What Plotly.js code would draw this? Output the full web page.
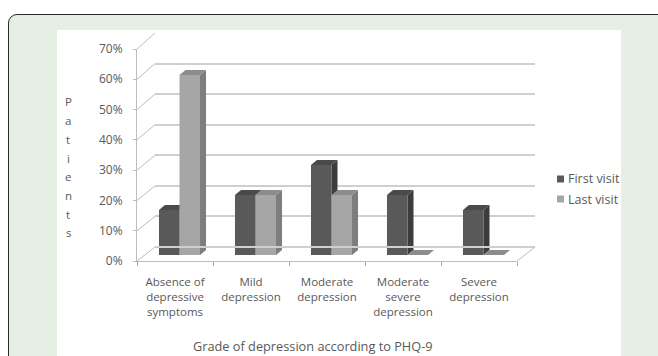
<!DOCTYPE html>
<html><head><meta charset="utf-8">
<script src="https://cdn.plot.ly/plotly-3.0.1.min.js"></script>
<style>
html,body{margin:0;padding:0;width:658px;height:356px;overflow:hidden;background:#fff;}
#frame{position:absolute;left:8px;top:14px;width:690px;height:400px;background:#e6efe3;border:1.5px solid #2b2b2b;border-radius:9px;}
#panel{position:absolute;left:57px;top:30px;width:564px;height:340px;background:#fff;}
#chart{position:absolute;left:0;top:0;width:658px;height:356px;}
</style></head><body>
<div id="frame"></div><div id="panel"></div><div id="chart"></div>
<script>
// ---- data ----
const categories = ['Absence of depressive symptoms','Mild depression','Moderate depression','Moderate severe depression','Severe depression'];
const tickLabels = ['Absence of<br>depressive<br>symptoms','Mild<br>depression','Moderate<br>depression','Moderate<br>severe<br>depression','Severe<br>depression'];
const firstVisit = [0.15, 0.20, 0.30, 0.20, 0.15];
const lastVisit  = [0.60, 0.20, 0.20, 0.00, 0.00];
const seriesNames = ['First visit', 'Last visit'];
const yTickVals = [0, 0.1, 0.2, 0.3, 0.4, 0.5, 0.6, 0.7];
const xTitle = 'Grade of depression according to PHQ-9';
const yTitle = 'Patients';

// ---- styling / geometry ----
const W = 658, H = 356;
const px = x => x / W, py = y => 1 - y / H;
const FONT = 'Open Sans, Arial, sans-serif';
const TXT = '#595959';
const AX = '#bdbdbd';
const front = {x0:137, x1:517, y0:261, y1:49};
const mid   = {x0:141.5, x1:521.5, y0:255, y1:45};
const back  = {x0:155, x1:535, y0:247, y1:33};
const yMax = 0.7;
const barW = 0.27;
const dx = 6 / ((mid.x1 - mid.x0) / categories.length);
const dy = 5 * yMax / (mid.y0 - mid.y1);
const colors = [
  {front:'#595959', side:'#3c3c3c', top:'#4a4a4a'},
  {front:'#a6a6a6', side:'#7d7d7d', top:'#8c8c8c'}
];
const idx = categories.map((c, i) => i);
const boundaries = categories.map((c, i) => i - 0.5).concat([categories.length - 0.5]);
const series = [firstVisit, lastVisit];

const traces = [
  {type:'scatter', mode:'none', x: idx, y: firstVisit, xaxis:'x', yaxis:'y', showlegend:false, hoverinfo:'skip'}
];
series.forEach((vals, s) => {
  traces.push({type:'bar', name: seriesNames[s], x: idx, y: vals, xaxis:'x2', yaxis:'y2',
    marker:{color: colors[s].front, line:{width:0}}, showlegend:false, hovertext: categories, hoverinfo:'text+y'});
});
traces.push({type:'scatter', mode:'none', x: idx, y: lastVisit, xaxis:'x3', yaxis:'y3', showlegend:false, hoverinfo:'skip'});

const shapes = [];
// 3D faces of bars (data coordinates)
series.forEach((vals, s) => {
  vals.forEach((v, i) => {
    const l = i - barW + s * barW, r = l + barW;
    shapes.push({type:'path', xref:'x2', yref:'y2', layer:'below', line:{width:0}, fillcolor: colors[s].side,
      path:`M${r},0 L${r+dx},${dy} L${r+dx},${v+dy} L${r},${v} Z`});
    shapes.push({type:'path', xref:'x2', yref:'y2', layer:'below', line:{width:0}, fillcolor: colors[s].top,
      path:`M${l},${v} L${l+dx},${v+dy} L${r+dx},${v+dy} L${r},${v} Z`});
  });
});
// walls / floor connectors
const yF = v => front.y0 - v / yMax * (front.y0 - front.y1);
const yB = v => back.y0 - v / yMax * (back.y0 - back.y1);
yTickVals.forEach(v => {
  shapes.push({type:'line', xref:'paper', yref:'paper', x0:px(front.x0), y0:py(yF(v)), x1:px(back.x0), y1:py(yB(v)), line:{color:AX, width:1}});
});
shapes.push({type:'line', xref:'paper', yref:'paper', x0:px(back.x0), y0:py(back.y0), x1:px(back.x1), y1:py(back.y0), line:{color:'#cfcfcf', width:2}});
shapes.push({type:'line', xref:'paper', yref:'paper', x0:px(front.x1), y0:py(front.y0), x1:px(back.x1), y1:py(back.y0), line:{color:AX, width:1}});
// legend squares
const legY = [179, 199];
seriesNames.forEach((n, s) => {
  shapes.push({type:'rect', xref:'paper', yref:'paper', x0:px(557), x1:px(564), y0:py(legY[s]+3.5), y1:py(legY[s]-3.5), line:{width:0}, fillcolor: colors[s].front});
});

const annotations = [];
seriesNames.forEach((n, s) => {
  annotations.push({xref:'paper', yref:'paper', x:px(566), y:py(legY[s]), xanchor:'left', yanchor:'middle', text:n, showarrow:false, font:{family:FONT, size:12.5, color:TXT}});
});
yTitle.split('').forEach((ch, k) => {
  annotations.push({xref:'paper', yref:'paper', x:px(68), y:py(102 + k * 18.7), xanchor:'center', yanchor:'middle', text:ch, showarrow:false, font:{family:FONT, size:11.5, color:TXT}});
});
annotations.push({xref:'paper', yref:'paper', x:px(313), y:py(346), xanchor:'center', yanchor:'middle', text:xTitle, showarrow:false, font:{family:FONT, size:12.75, color:TXT}});

const layout = {
  width: W, height: H, margin:{l:0, r:0, t:0, b:0},
  paper_bgcolor:'rgba(0,0,0,0)', plot_bgcolor:'rgba(0,0,0,0)',
  showlegend:false, barmode:'group', bargap: 1 - 2 * barW, bargroupgap:0,
  font:{family:FONT, color:TXT},
  xaxis:{domain:[px(back.x0), px(back.x1)], range:[-0.5, 4.5], visible:false, anchor:'y'},
  yaxis:{domain:[py(back.y0), py(back.y1)], range:[0, yMax], anchor:'x', tickmode:'array', tickvals:yTickVals,
    showgrid:true, gridcolor:'#cfcfcf', gridwidth:2, zeroline:false, showline:false, showticklabels:false, ticks:''},
  xaxis2:{domain:[px(mid.x0), px(mid.x1)], range:[-0.5, 4.5], visible:false, anchor:'y2'},
  yaxis2:{domain:[py(mid.y0), py(mid.y1)], range:[0, yMax], visible:false, anchor:'x2'},
  xaxis3:{domain:[px(front.x0), px(front.x1)], range:[-0.5, 4.5], anchor:'y3', tickmode:'array', tickvals: idx, ticktext: tickLabels,
    ticks:'', showline:true, linecolor:AX, linewidth:1, showgrid:false, zeroline:false,
    minor:{tickmode:'array', tickvals: boundaries, ticks:'outside', ticklen:4, tickcolor:'#a8a8a8', tickwidth:1},
    tickfont:{family:FONT, size:11.5, color:TXT}, ticklabelstandoff:10},
  yaxis3:{domain:[py(front.y0), py(front.y1)], range:[0, yMax], anchor:'x3', tickmode:'array', tickvals:yTickVals, tickformat:'.0%',
    ticks:'outside', ticklen:3, tickcolor:AX, showline:true, linecolor:AX, linewidth:1, showgrid:false, zeroline:false,
    tickfont:{family:FONT, size:12, color:TXT}, ticklabelstandoff:8},
  shapes: shapes, annotations: annotations
};
Plotly.newPlot('chart', traces, layout, {displayModeBar:false, staticPlot:true});
</script>
</body></html>
